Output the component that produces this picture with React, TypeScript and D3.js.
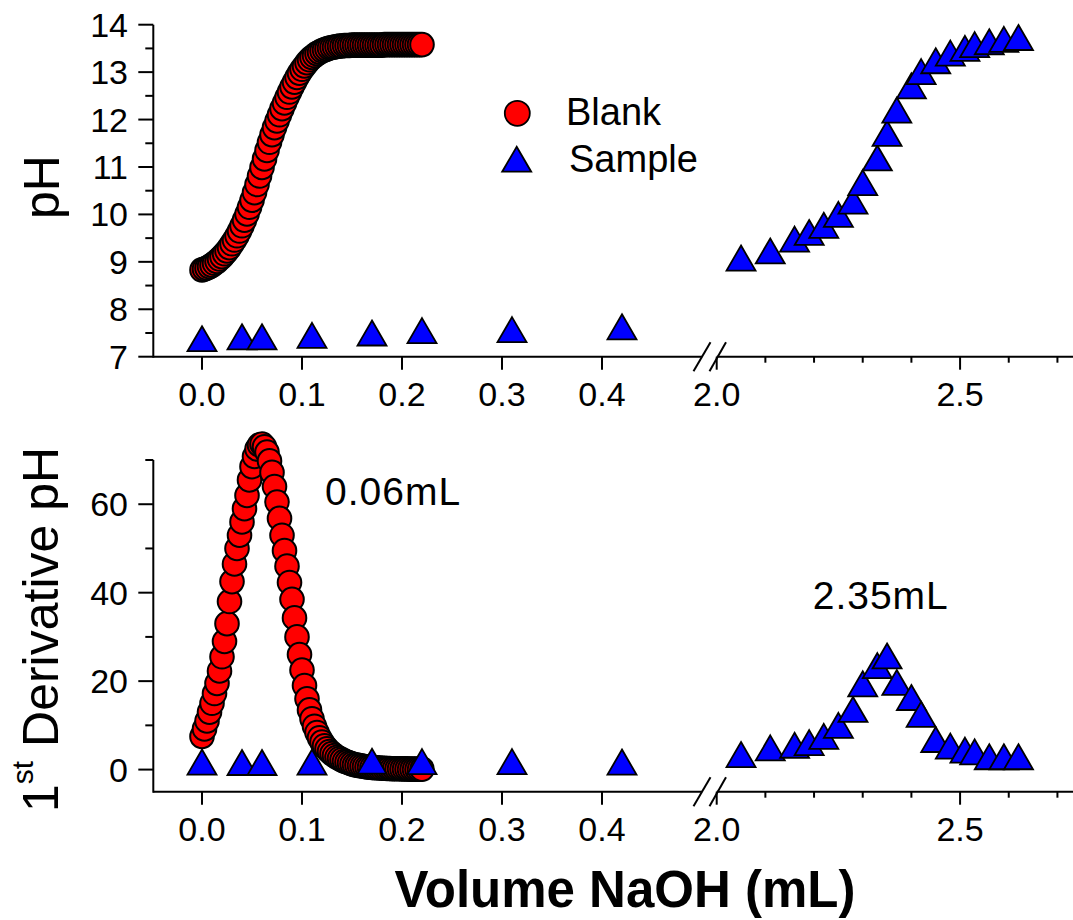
import React from 'react';
import * as d3 from 'd3';

// ---------------- data ----------------
const blankVolume = [
  0, 0.0025, 0.005, 0.0075, 0.01, 0.0125, 0.015, 0.0175, 0.02, 0.0225,
  0.025, 0.0275, 0.03, 0.0325, 0.035, 0.0375, 0.04, 0.0425, 0.045, 0.0475,
  0.05, 0.0525, 0.055, 0.0575, 0.06, 0.0625, 0.065, 0.0675, 0.07, 0.0725,
  0.075, 0.0775, 0.08, 0.0825, 0.085, 0.0875, 0.09, 0.0925, 0.095, 0.0975,
  0.1, 0.1025, 0.105, 0.1075, 0.11, 0.1125, 0.115, 0.1175, 0.12, 0.1225,
  0.125, 0.1275, 0.13, 0.1325, 0.135, 0.1375, 0.14, 0.1425, 0.145, 0.1475,
  0.15, 0.1525, 0.155, 0.1575, 0.16, 0.1625, 0.165, 0.1675, 0.17, 0.1725,
  0.175, 0.1775, 0.18, 0.1825, 0.185, 0.1875, 0.19, 0.1925, 0.195, 0.1975,
  0.2, 0.2025, 0.205, 0.2075, 0.21, 0.2125, 0.215, 0.2175, 0.22,
];
const blankPH = [
  8.83, 8.85, 8.87, 8.9, 8.93, 8.97, 9.01, 9.06, 9.11, 9.17,
  9.23, 9.3, 9.38, 9.46, 9.55, 9.65, 9.76, 9.88, 10.01, 10.15,
  10.3, 10.46, 10.63, 10.81, 10.99, 11.17, 11.35, 11.52, 11.68, 11.83,
  11.97, 12.1, 12.23, 12.35, 12.47, 12.58, 12.69, 12.79, 12.89, 12.98,
  13.06, 13.13, 13.2, 13.26, 13.31, 13.35, 13.39, 13.42, 13.45, 13.47,
  13.49, 13.51, 13.52, 13.53, 13.54, 13.55, 13.55, 13.56, 13.56, 13.56,
  13.57, 13.57, 13.57, 13.57, 13.57, 13.57, 13.57, 13.57, 13.57, 13.57,
  13.57, 13.57, 13.57, 13.58, 13.58, 13.58, 13.58, 13.58, 13.58, 13.58,
  13.58, 13.58, 13.58, 13.58, 13.58, 13.58, 13.58, 13.58, 13.58,
];
const blankDeriv = [
  7.5, 9.2, 11.0, 13.0, 15.0, 17.2, 19.5, 22.3, 25.5, 29.0,
  33.0, 38.0, 42.5, 46.5, 50.0, 53.0, 56.0, 59.0, 62.0, 65.5,
  68.5, 70.8, 72.5, 73.4, 73.6, 73.0, 71.8, 69.8, 67.2, 64.0,
  60.5, 56.8, 53.0, 49.5, 46.0, 42.3, 38.5, 34.3, 30.0, 26.0,
  22.5, 19.0, 16.0, 13.5, 11.5, 9.8, 8.4, 7.2, 6.2, 5.4,
  4.7, 4.1, 3.6, 3.2, 2.8, 2.5, 2.2, 1.9, 1.7, 1.5,
  1.3, 1.1, 1.0, 0.9, 0.8, 0.7, 0.6, 0.55, 0.5, 0.45,
  0.4, 0.35, 0.3, 0.3, 0.25, 0.25, 0.2, 0.2, 0.2, 0.2,
  0.15, 0.15, 0.15, 0.1, 0.1, 0.1, 0.1, 0.1, 0.1,
];

const sampleVolume = [
  0, 0.04, 0.06, 0.11, 0.17, 0.22, 0.31, 0.42,
  2.05, 2.11, 2.16, 2.19, 2.22, 2.25, 2.28, 2.3, 2.33, 2.35,
  2.37, 2.4, 2.42, 2.45, 2.48, 2.51, 2.53, 2.56, 2.59, 2.62,
];
const samplePH = [
  7.38, 7.42, 7.42, 7.45, 7.5, 7.55, 7.57, 7.63,
  9.08, 9.23, 9.48, 9.62, 9.77, 10.0, 10.28, 10.67, 11.19, 11.71,
  12.2, 12.71, 13.01, 13.24, 13.4, 13.5, 13.58, 13.64, 13.69, 13.73,
];
const sampleDeriv = [
  1.7, 1.6, 1.6, 1.7, 1.9, 1.8, 1.8, 1.7,
  3.4, 4.9, 5.5, 6.1, 7.5, 10.0, 13.6, 19.4, 23.5, 25.7,
  19.7, 16.3, 12.5, 6.8, 5.3, 4.4, 4.0, 2.9, 2.9, 2.9,
];

const xTicksLow = [0.0, 0.1, 0.2, 0.3, 0.4];
const xTicksHigh = [2.0, 2.5];
const xMinorHigh = [2.1, 2.2, 2.3, 2.4, 2.6, 2.7];
const phTicks = [7, 8, 9, 10, 11, 12, 13, 14];
const phMinor = [7.5, 8.5, 9.5, 10.5, 11.5, 12.5, 13.5];
const derivTicks = [0, 20, 40, 60];
const derivMinor = [10, 30, 50, 70];

const legendLabels = ['Blank', 'Sample'];
const peakLabels = ['0.06mL', '2.35mL'];

// ---------------- layout ----------------
const W = 1073;
const H = 920;
const FONT = "'Liberation Sans', Arial, Helvetica, sans-serif";
const AXIS_X = 153.3;
const BREAK_L = 702;
const BREAK_R = 716.7;

const xLow = d3.scaleLinear().domain([-0.0487, 0.5]).range([AXIS_X, BREAK_L]);
const xHigh = d3.scaleLinear().domain([2.0, 2.732]).range([BREAK_R, W]);
const X = (v: number) => (v < 1 ? xLow(v) : xHigh(v));

const yPH = d3.scaleLinear().domain([7, 14]).range([356.7, 24.7]);
const yD = d3.scaleLinear().domain([-5, 70]).range([791.7, 460]);

const R = 11.8;
const TW = 14.5;
const TH = 12.5;
const triPath = (cx: number, cy: number) =>
  `M${cx},${cy - TH}L${cx + TW},${cy + TH}L${cx - TW},${cy + TH}Z`;

function Axes({ ys, major, minor }: { ys: d3.ScaleLinear<number, number>; major: number[]; minor: number[] }) {
  const yb = ys.range()[0];
  const yt = ys.range()[1];
  const sw = 2;
  return (
    <g stroke="#000" strokeWidth={sw} fill="none">
      <line x1={AXIS_X} x2={AXIS_X} y1={yt} y2={yb + 1} />
      {major.map((t) => (
        <line key={'M' + t} x1={AXIS_X - 15} x2={AXIS_X} y1={ys(t)} y2={ys(t)} />
      ))}
      {minor.map((t) => (
        <line key={'m' + t} x1={AXIS_X - 8} x2={AXIS_X} y1={ys(t)} y2={ys(t)} />
      ))}
      {major.map((t) => (
        <text
          key={'L' + t}
          x={128}
          y={ys(t) + 12}
          textAnchor="end"
          fontSize={34}
          fontFamily={FONT}
          fill="#000"
          stroke="none"
        >
          {t}
        </text>
      ))}
      <line x1={AXIS_X} x2={BREAK_L} y1={yb} y2={yb} />
      <line x1={BREAK_R} x2={W} y1={yb} y2={yb} />
      <line x1={693.5} y1={yb + 14.5} x2={710.5} y2={yb - 14.5} />
      <line x1={709.5} y1={yb + 14.5} x2={726} y2={yb - 14.5} />
      {xTicksLow.map((t) => (
        <line key={'xl' + t} x1={xLow(t)} x2={xLow(t)} y1={yb} y2={yb + 13} />
      ))}
      {xTicksHigh.map((t) => (
        <line key={'xh' + t} x1={xHigh(t)} x2={xHigh(t)} y1={yb} y2={yb + 13} />
      ))}
      {xMinorHigh.map((t) => (
        <line key={'xm' + t} x1={xHigh(t)} x2={xHigh(t)} y1={yb} y2={yb + 6} />
      ))}
      {xTicksLow.map((t) => (
        <text key={'tl' + t} x={xLow(t)} y={yb + 49} textAnchor="middle" fontSize={34} fontFamily={FONT} fill="#000" stroke="none">
          {t.toFixed(1)}
        </text>
      ))}
      {xTicksHigh.map((t) => (
        <text key={'th' + t} x={xHigh(t)} y={yb + 49} textAnchor="middle" fontSize={34} fontFamily={FONT} fill="#000" stroke="none">
          {t.toFixed(1)}
        </text>
      ))}
    </g>
  );
}

function Series({ ys, blank, sample }: { ys: d3.ScaleLinear<number, number>; blank: number[]; sample: number[] }) {
  return (
    <g>
      <g fill="#ff0000" stroke="#000" strokeWidth={2}>
        {blankVolume.map((v, i) => (
          <circle key={i} cx={X(v)} cy={ys(blank[i])} r={R} />
        ))}
      </g>
      <g fill="#0000ff" stroke="#000" strokeWidth={1.8} strokeLinejoin="miter">
        {sampleVolume.map((v, i) => (
          <path key={i} d={triPath(X(v), ys(sample[i]))} />
        ))}
      </g>
    </g>
  );
}

export default function App() {
  return (
    <div style={{ position: 'absolute', left: 0, top: 0, width: W, height: H, background: '#fff' }}>
      <svg width={W} height={H} viewBox={`0 0 ${W} ${H}`} style={{ display: 'block' }}>
        <rect x={0} y={0} width={W} height={H} fill="#fff" />
        <Axes ys={yPH} major={phTicks} minor={phMinor} />
        <Axes ys={yD} major={derivTicks} minor={derivMinor} />
        <Series ys={yPH} blank={blankPH} sample={samplePH} />
        <Series ys={yD} blank={blankDeriv} sample={sampleDeriv} />

        {/* legend */}
        <circle cx={517.3} cy={113.3} r={12.5} fill="#ff0000" stroke="#000" strokeWidth={1.8} />
        <path d={triPath(516.7, 159.2)} fill="#0000ff" stroke="#000" strokeWidth={1.8} />
        <text x={566} y={125} fontSize={38} fontFamily={FONT} fill="#000">{legendLabels[0]}</text>
        <text x={569} y={171.7} fontSize={38} fontFamily={FONT} fill="#000">{legendLabels[1]}</text>

        {/* peak annotations */}
        <text x={325} y={505} fontSize={39} fontFamily={FONT} fill="#000" letterSpacing={1}>{peakLabels[0]}</text>
        <text x={812.7} y={609.3} fontSize={39} fontFamily={FONT} fill="#000" letterSpacing={1}>{peakLabels[1]}</text>

        {/* axis titles */}
        <text transform="translate(59,187) rotate(-90)" textAnchor="middle" fontSize={50} fontFamily={FONT} fill="#000">
          pH
        </text>
        <text transform="translate(58,812) rotate(-90)" textAnchor="start" fontSize={50} fontFamily={FONT} fill="#000">
          <tspan>1</tspan>
          <tspan fontSize={30} dy={-25}>st</tspan>
          <tspan dy={25}> Derivative pH</tspan>
        </text>
        <text x={625} y={907} textAnchor="middle" fontSize={51} fontWeight="bold" fontFamily={FONT} fill="#000">
          Volume NaOH (mL)
        </text>
      </svg>
    </div>
  );
}
